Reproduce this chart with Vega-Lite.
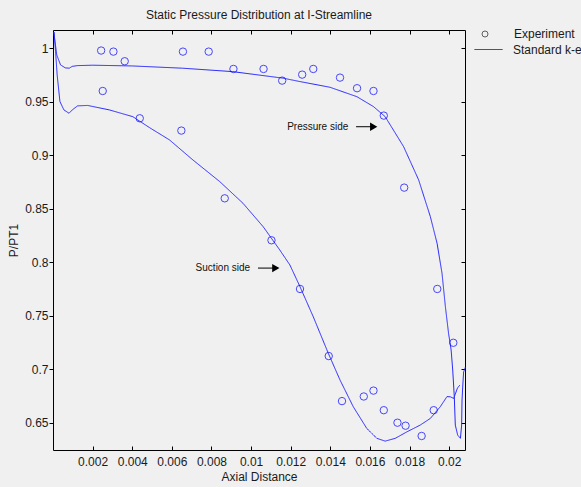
{
  "$schema": "https://vega.github.io/schema/vega-lite/v6.json",
  "width": 412,
  "height": 420,
  "autosize": "none",
  "padding": {"left": 53, "top": 30, "right": 116, "bottom": 37},
  "background": "#f0f0f0",
  "title": {"text": "Static Pressure Distribution at I-Streamline", "fontSize": 12, "font": "Liberation Sans", "fontWeight": "normal", "color": "#1a1a1a", "offset": 6},
  "config": {
    "view": {"stroke": "#000000", "strokeWidth": 1, "fill": "#f0f0f0"},
    "axis": {"grid": false, "domain": false, "labelFont": "Liberation Sans", "labelFontSize": 12, "labelColor": "#1a1a1a", "titleFont": "Liberation Sans", "titleFontSize": 12, "titleFontWeight": "normal", "titleColor": "#1a1a1a", "tickColor": "#000000", "labelFlush": false, "labelOverlap": false},
    "legend": {"labelFont": "Liberation Sans", "labelFontSize": 12, "labelColor": "#1a1a1a", "padding": 0}
  },
  "datasets": {
    "curve": [
      {"i": 1, "x": 0.02054, "y": 0.6852}, {"i": 2, "x": 0.02042, "y": 0.6824}, {"i": 3, "x": 0.02023, "y": 0.6727}, {"i": 4, "x": 0.02006, "y": 0.6742}, {"i": 5, "x": 0.01989, "y": 0.6744}, {"i": 6, "x": 0.01955, "y": 0.6649}, {"i": 7, "x": 0.01905, "y": 0.654}, {"i": 8, "x": 0.01854, "y": 0.6478}, {"i": 9, "x": 0.01787, "y": 0.6415}, {"i": 10, "x": 0.01728, "y": 0.6354}, {"i": 11, "x": 0.01677, "y": 0.6328}, {"i": 12, "x": 0.01635, "y": 0.6354}, {"i": 13, "x": 0.01584, "y": 0.6447}, {"i": 14, "x": 0.01516, "y": 0.6649}, {"i": 15, "x": 0.01449, "y": 0.6899}, {"i": 16, "x": 0.0139, "y": 0.7148}, {"i": 17, "x": 0.01314, "y": 0.749}, {"i": 18, "x": 0.01247, "y": 0.7771}, {"i": 19, "x": 0.01196, "y": 0.7974}, {"i": 20, "x": 0.01145, "y": 0.8114}, {"i": 21, "x": 0.01061, "y": 0.8332}, {"i": 22, "x": 0.00959, "y": 0.8551}, {"i": 23, "x": 0.00842, "y": 0.8753}, {"i": 24, "x": 0.00706, "y": 0.8956}, {"i": 25, "x": 0.00588, "y": 0.9143}, {"i": 26, "x": 0.00487, "y": 0.9258}, {"i": 27, "x": 0.00403, "y": 0.936}, {"i": 28, "x": 0.00285, "y": 0.9423}, {"i": 29, "x": 0.00175, "y": 0.9465}, {"i": 30, "x": 0.00124, "y": 0.9461}, {"i": 31, "x": 0.00097, "y": 0.9423}, {"i": 32, "x": 0.00081, "y": 0.9392}, {"i": 33, "x": 0.00055, "y": 0.9423}, {"i": 34, "x": 0.00035, "y": 0.9501}, {"i": 35, "x": 0.00021, "y": 0.975}, {"i": 36, "x": 0.00013, "y": 0.9968}, {"i": 37, "x": 0.00005, "y": 1.015},
      {"i": 38, "x": 0.00009, "y": 1.0078}, {"i": 39, "x": 0.00019, "y": 0.9937}, {"i": 40, "x": 0.00038, "y": 0.9844}, {"i": 41, "x": 0.00062, "y": 0.9816}, {"i": 42, "x": 0.00082, "y": 0.9813}, {"i": 43, "x": 0.00097, "y": 0.983}, {"i": 44, "x": 0.00123, "y": 0.9837}, {"i": 45, "x": 0.002, "y": 0.9841}, {"i": 46, "x": 0.00401, "y": 0.9834}, {"i": 47, "x": 0.00654, "y": 0.9813}, {"i": 48, "x": 0.00907, "y": 0.9781}, {"i": 49, "x": 0.01161, "y": 0.972}, {"i": 50, "x": 0.01247, "y": 0.9688}, {"i": 51, "x": 0.01398, "y": 0.9635}, {"i": 52, "x": 0.01534, "y": 0.9547}, {"i": 53, "x": 0.01618, "y": 0.9454}, {"i": 54, "x": 0.01677, "y": 0.936}, {"i": 55, "x": 0.0177, "y": 0.908}, {"i": 56, "x": 0.01846, "y": 0.8769}, {"i": 57, "x": 0.01905, "y": 0.8426}, {"i": 58, "x": 0.01939, "y": 0.8177}, {"i": 59, "x": 0.01964, "y": 0.7896}, {"i": 60, "x": 0.01981, "y": 0.7584}, {"i": 61, "x": 0.01997, "y": 0.7335}, {"i": 62, "x": 0.0201, "y": 0.7179}, {"i": 63, "x": 0.02018, "y": 0.6992}, {"i": 64, "x": 0.02026, "y": 0.6742}, {"i": 65, "x": 0.02031, "y": 0.6478}, {"i": 66, "x": 0.02043, "y": 0.6384}, {"i": 67, "x": 0.02057, "y": 0.6354}, {"i": 68, "x": 0.02063, "y": 0.6478}, {"i": 69, "x": 0.02065, "y": 0.6712}, {"i": 70, "x": 0.02069, "y": 0.6852}, {"i": 71, "x": 0.02073, "y": 0.6973}, {"i": 72, "x": 0.02082, "y": 0.702}
    ],
    "experiment": [
      {"x": 0.00243, "y": 0.9978}, {"x": 0.00305, "y": 0.9968}, {"x": 0.00362, "y": 0.9878}, {"x": 0.00656, "y": 0.9968}, {"x": 0.00786, "y": 0.9968}, {"x": 0.00911, "y": 0.9806}, {"x": 0.01063, "y": 0.9806}, {"x": 0.01157, "y": 0.9697}, {"x": 0.01258, "y": 0.9753}, {"x": 0.01314, "y": 0.9806}, {"x": 0.01449, "y": 0.9725}, {"x": 0.01535, "y": 0.9626}, {"x": 0.01618, "y": 0.96}, {"x": 0.0167, "y": 0.937}, {"x": 0.01773, "y": 0.8697}, {"x": 0.0194, "y": 0.775}, {"x": 0.02021, "y": 0.7247},
      {"x": 0.00251, "y": 0.96}, {"x": 0.00438, "y": 0.9345}, {"x": 0.00648, "y": 0.923}, {"x": 0.00867, "y": 0.8597}, {"x": 0.01103, "y": 0.8205}, {"x": 0.01247, "y": 0.775}, {"x": 0.01392, "y": 0.7123}, {"x": 0.01459, "y": 0.6702}, {"x": 0.01569, "y": 0.6745}, {"x": 0.01618, "y": 0.68}, {"x": 0.0167, "y": 0.6617}, {"x": 0.01739, "y": 0.65}, {"x": 0.0178, "y": 0.6472}, {"x": 0.01861, "y": 0.6376}, {"x": 0.01922, "y": 0.6617}
    ],
    "notes": [
      {"label": "Pressure side", "x": 0.01182, "y": 0.9266, "x1": 0.0153, "x2": 0.01619},
      {"label": "Suction side", "x": 0.0072, "y": 0.7945, "x1": 0.01035, "x2": 0.01125}
    ]
  },
  "resolve": {"axis": {"x": "independent", "y": "independent"}},
  "layer": [
    {
      "data": {"name": "curve"},
      "mark": {"type": "line", "color": "#2424ff", "strokeWidth": 1},
      "encoding": {
        "x": {"field": "x", "type": "quantitative", "scale": {"domain": [0, 0.0208], "nice": false, "zero": false},
          "axis": {"orient": "bottom", "title": "Axial Distance", "values": [0.002, 0.004, 0.006, 0.008, 0.01, 0.012, 0.014, 0.016, 0.018, 0.02], "format": "~g", "tickSize": -4, "labelPadding": 10, "titlePadding": 4}},
        "y": {"field": "y", "type": "quantitative", "scale": {"domain": [0.6245, 1.017], "nice": false, "zero": false},
          "axis": {"orient": "left", "title": "P/PT1", "values": [0.65, 0.7, 0.75, 0.8, 0.85, 0.9, 0.95, 1], "format": "~g", "tickSize": 4, "labelPadding": 1, "titlePadding": 4}},
        "order": {"field": "i", "type": "quantitative"},
        "strokeDash": {"datum": "Standard k-e", "scale": {"domain": ["Standard k-e"], "range": [[1, 0]]},
          "legend": {"title": null, "orient": "none", "legendX": 421, "legendY": 5, "symbolType": "stroke", "symbolSize": 784, "symbolStrokeWidth": 1, "symbolStrokeColor": "#222222", "labelOffset": 10}}
      }
    },
    {
      "data": {"name": "experiment"},
      "mark": {"type": "point", "filled": false, "color": "#0000ff", "strokeWidth": 1, "size": 55},
      "encoding": {
        "x": {"field": "x", "type": "quantitative", "axis": {"orient": "top", "title": null, "labels": false, "values": [0.002, 0.004, 0.006, 0.008, 0.01, 0.012, 0.014, 0.016, 0.018, 0.02], "tickSize": -4}},
        "y": {"field": "y", "type": "quantitative", "axis": {"orient": "right", "title": null, "labels": false, "values": [0.65, 0.7, 0.75, 0.8, 0.85, 0.9, 0.95, 1], "tickSize": -4}},
        "shape": {"datum": "Experiment", "scale": {"domain": ["Experiment"], "range": ["circle"]},
          "legend": {"title": null, "orient": "none", "legendX": 426, "legendY": -2, "symbolSize": 36, "symbolStrokeWidth": 1, "symbolStrokeColor": "#222222", "symbolFillColor": "transparent", "labelOffset": 23}}
      }
    },
    {
      "data": {"name": "notes"},
      "mark": {"type": "text", "align": "left", "baseline": "middle", "font": "Liberation Sans", "fontSize": 10, "color": "#111111"},
      "encoding": {
        "x": {"field": "x", "type": "quantitative", "axis": null},
        "y": {"field": "y", "type": "quantitative", "axis": null},
        "text": {"field": "label"}
      }
    },
    {
      "data": {"name": "notes"},
      "mark": {"type": "rule", "color": "#000000", "strokeWidth": 1},
      "encoding": {
        "x": {"field": "x1", "type": "quantitative", "axis": null},
        "x2": {"field": "x2"},
        "y": {"field": "y", "type": "quantitative", "axis": null}
      }
    },
    {
      "data": {"name": "notes"},
      "mark": {"type": "point", "shape": "triangle-right", "filled": true, "color": "#000000", "size": 70, "opacity": 1},
      "encoding": {
        "x": {"field": "x2", "type": "quantitative", "axis": null},
        "y": {"field": "y", "type": "quantitative", "axis": null}
      }
    }
  ]
}
